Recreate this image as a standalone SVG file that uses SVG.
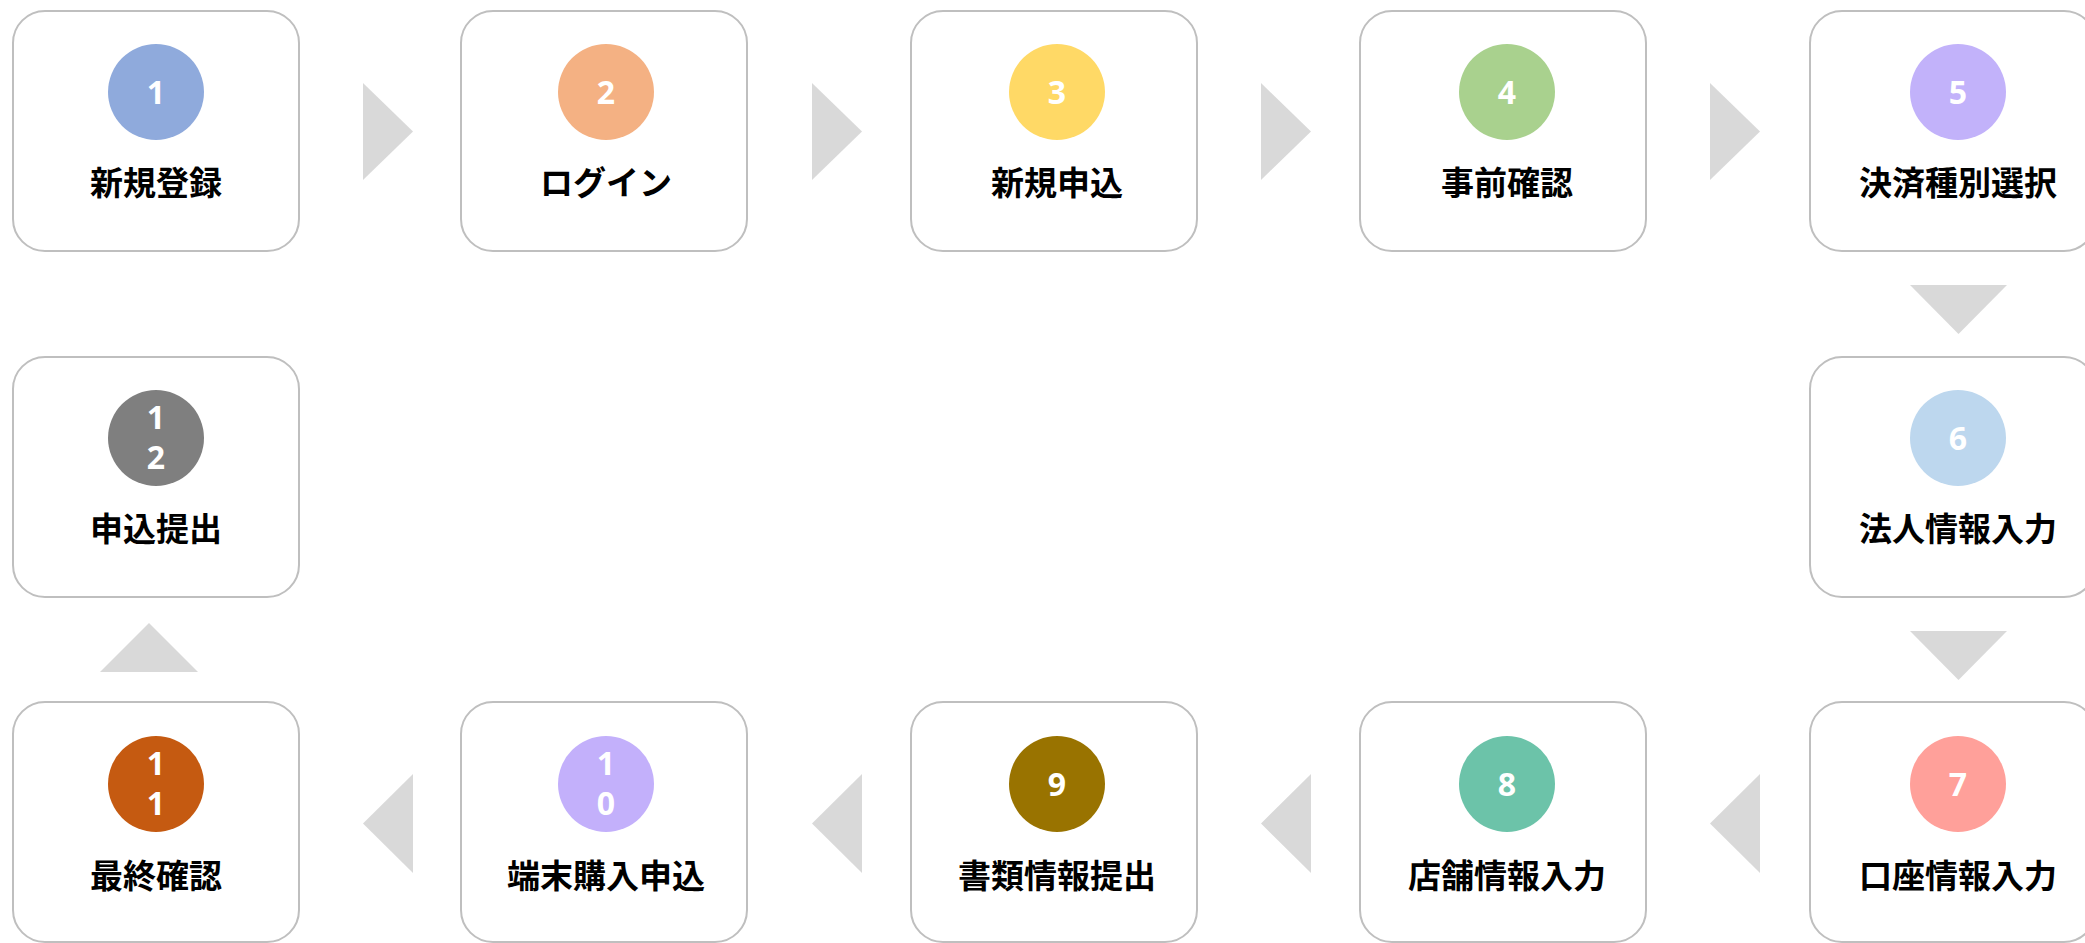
<svg xmlns="http://www.w3.org/2000/svg" width="2085" height="943" viewBox="0 0 2085 943">
<style>
.box{fill:#FFFFFF;stroke:#BFBFBF;stroke-width:2}
.arr{fill:#D9D9D9}
.num{font-family:"Noto Sans","Open Sans","Noto Sans CJK JP",sans-serif;font-weight:bold;font-size:32px;fill:#FFFFFF;text-anchor:middle}
.lbl{font-family:"Noto Sans CJK JP","Noto Sans CJK SC",sans-serif;font-weight:bold;font-size:33px;fill:#000000;text-anchor:middle}
</style>
<rect width="2085" height="943" fill="#FFFFFF"/>
<g id="connectors">
<polygon class="arr" points="363,83 413,131.5 363,180"/>
<polygon class="arr" points="812,83 862,131.5 812,180"/>
<polygon class="arr" points="1261,83 1311,131.5 1261,180"/>
<polygon class="arr" points="1710,83 1760,131.5 1710,180"/>
<polygon class="arr" points="1910,285 2007,285 1958.5,334"/>
<polygon class="arr" points="1910,631 2007,631 1958.5,680"/>
<polygon class="arr" points="1760,774 1710,823.5 1760,873"/>
<polygon class="arr" points="1311,774 1261,823.5 1311,873"/>
<polygon class="arr" points="862,774 812,823.5 862,873"/>
<polygon class="arr" points="413,774 363,823.5 413,873"/>
<polygon class="arr" points="100,672 198,672 149,623"/>
</g>
<g id="node1">
<rect class="box" x="13" y="11" width="286" height="240" rx="32"/>
<circle cx="156" cy="92" r="48" fill="#8FAADC"/>
<text class="num" x="156" y="103.5">1</text>
<text class="lbl" x="156" y="194.5">新規登録</text>
</g>
<g id="node2">
<rect class="box" x="461" y="11" width="286" height="240" rx="32"/>
<circle cx="606" cy="92" r="48" fill="#F4B183"/>
<text class="num" x="606" y="103.5">2</text>
<text class="lbl" x="606" y="194.5">ログイン</text>
</g>
<g id="node3">
<rect class="box" x="911" y="11" width="286" height="240" rx="32"/>
<circle cx="1057" cy="92" r="48" fill="#FFD966"/>
<text class="num" x="1057" y="103.5">3</text>
<text class="lbl" x="1057" y="194.5">新規申込</text>
</g>
<g id="node4">
<rect class="box" x="1360" y="11" width="286" height="240" rx="32"/>
<circle cx="1507" cy="92" r="48" fill="#A9D18E"/>
<text class="num" x="1507" y="103.5">4</text>
<text class="lbl" x="1507" y="194.5">事前確認</text>
</g>
<g id="node5">
<rect class="box" x="1810" y="11" width="286" height="240" rx="32"/>
<circle cx="1958" cy="92" r="48" fill="#C2B2FA"/>
<text class="num" x="1958" y="103.5">5</text>
<text class="lbl" x="1958" y="194.5">決済種別選択</text>
</g>
<g id="node6">
<rect class="box" x="1810" y="357" width="286" height="240" rx="32"/>
<circle cx="1958" cy="438" r="48" fill="#BDD7EE"/>
<text class="num" x="1958" y="449.5">6</text>
<text class="lbl" x="1958" y="541">法人情報入力</text>
</g>
<g id="node7">
<rect class="box" x="1810" y="702" width="286" height="240" rx="32"/>
<circle cx="1958" cy="784" r="48" fill="#FFA09A"/>
<text class="num" x="1958" y="795.5">7</text>
<text class="lbl" x="1958" y="888">口座情報入力</text>
</g>
<g id="node8">
<rect class="box" x="1360" y="702" width="286" height="240" rx="32"/>
<circle cx="1507" cy="784" r="48" fill="#6CC3A9"/>
<text class="num" x="1507" y="795.5">8</text>
<text class="lbl" x="1507" y="888">店舗情報入力</text>
</g>
<g id="node9">
<rect class="box" x="911" y="702" width="286" height="240" rx="32"/>
<circle cx="1057" cy="784" r="48" fill="#997300"/>
<text class="num" x="1057" y="795.5">9</text>
<text class="lbl" x="1057" y="888">書類情報提出</text>
</g>
<g id="node10">
<rect class="box" x="461" y="702" width="286" height="240" rx="32"/>
<circle cx="606" cy="784" r="48" fill="#C3B0FB"/>
<text class="num" x="606" y="775">1</text>
<text class="num" x="606" y="815">0</text>
<text class="lbl" x="606" y="888">端末購入申込</text>
</g>
<g id="node11">
<rect class="box" x="13" y="702" width="286" height="240" rx="32"/>
<circle cx="156" cy="784" r="48" fill="#C55A11"/>
<text class="num" x="156" y="775">1</text>
<text class="num" x="156" y="815">1</text>
<text class="lbl" x="156" y="888">最終確認</text>
</g>
<g id="node12">
<rect class="box" x="13" y="357" width="286" height="240" rx="32"/>
<circle cx="156" cy="438" r="48" fill="#7F7F7F"/>
<text class="num" x="156" y="429">1</text>
<text class="num" x="156" y="469">2</text>
<text class="lbl" x="156" y="541">申込提出</text>
</g>
</svg>
